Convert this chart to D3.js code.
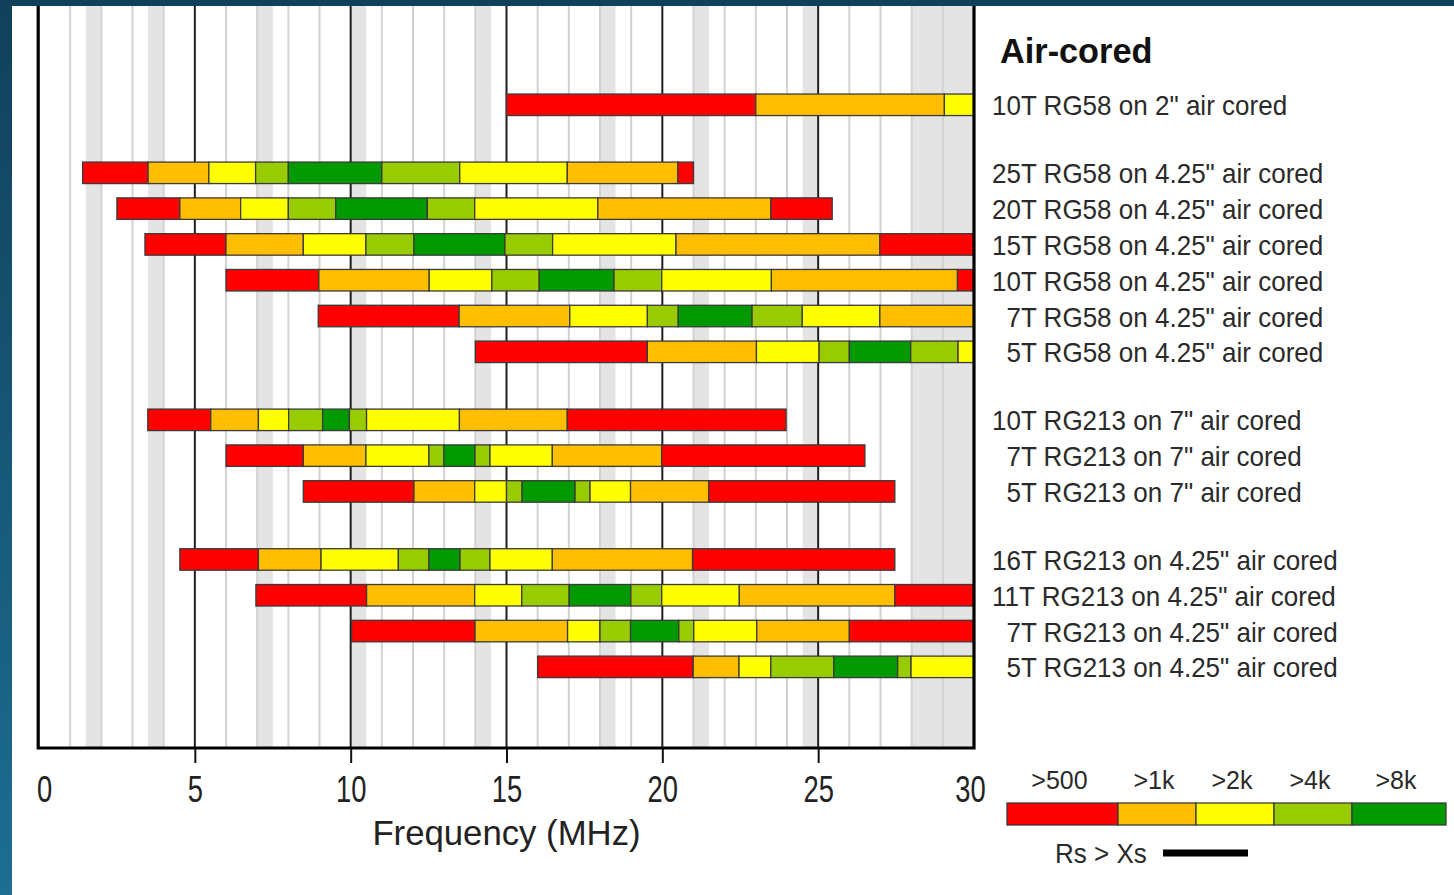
<!DOCTYPE html>
<html><head><meta charset="utf-8">
<script src="https://cdn.jsdelivr.net/npm/d3@7"></script>
<style>html,body{margin:0;padding:0;overflow:hidden;background:#fff}</style>
</head><body><svg id="c" width="1454" height="895"></svg>
<script>
// ---------------- data ----------------
const xTicks = [0, 5, 10, 15, 20, 25, 30];
const minorGrid = [1,2,3,4,6,7,8,9,11,12,13,14,16,17,18,19,21,22,23,24,26,27,28,29];
const majorGrid = [5, 10, 15, 20, 25];
const bandRanges = [[1.5,2.0],[3.5,4.0],[7.0,7.5],[10.0,10.5],[14.0,14.5],[18.0,18.5],[21.0,21.5],[24.5,25.0],[28.0,30.0]];
const levelLabels = [">500", ">1k", ">2k", ">4k", ">8k"];
const legendTitle = "Air-cored";
const axisTitle = "Frequency (MHz)";
const lineLegendLabel = "Rs > Xs";

const rowLabels = [
  '10T RG58 on 2" air cored',
  '25T RG58 on 4.25" air cored',
  '20T RG58 on 4.25" air cored',
  '15T RG58 on 4.25" air cored',
  '10T RG58 on 4.25" air cored',
  '7T RG58 on 4.25" air cored',
  '5T RG58 on 4.25" air cored',
  '10T RG213 on 7" air cored',
  '7T RG213 on 7" air cored',
  '5T RG213 on 7" air cored',
  '16T RG213 on 4.25" air cored',
  '11T RG213 on 4.25" air cored',
  '7T RG213 on 4.25" air cored',
  '5T RG213 on 4.25" air cored'
];
const rowGroups = [0,1,1,1,1,1,1,2,2,2,3,3,3,3];
const rowStarts = [15.0, 1.4, 2.5, 3.4, 6.0, 8.96, 14.0, 3.49, 6.0, 8.48, 4.52, 6.96, 10.03, 16.0];
const rowEdges = [
  [23.0, 29.05, 30],
  [3.5, 5.45, 6.95, 8.0, 11.0, 13.5, 16.95, 20.5, 21.0],
  [4.52, 6.47, 8.0, 9.52, 12.46, 13.98, 17.93, 23.48, 25.45],
  [6.0, 8.48, 10.49, 12.03, 14.95, 16.48, 20.44, 26.98, 30],
  [8.98, 12.52, 14.53, 16.05, 18.45, 19.98, 23.5, 29.47, 30],
  [13.48, 17.03, 19.52, 20.51, 22.88, 24.49, 26.98, 30],
  [19.52, 23.02, 25.03, 26.0, 27.97, 29.49, 30],
  [5.51, 7.04, 8.01, 9.1, 9.96, 10.51, 13.49, 16.95, 23.97],
  [8.48, 10.49, 12.51, 12.99, 13.99, 14.47, 16.47, 19.98, 26.5],
  [12.03, 13.98, 15.0, 15.5, 17.2, 17.68, 18.98, 21.49, 27.46],
  [7.04, 9.05, 11.53, 12.51, 13.51, 14.47, 16.47, 20.97, 27.46],
  [10.51, 13.98, 15.49, 17.01, 18.99, 19.98, 22.47, 27.46, 30],
  [13.99, 16.96, 18.0, 18.98, 20.53, 21.01, 23.03, 26.0, 30],
  [20.99, 22.46, 23.48, 25.5, 27.55, 27.98, 30]
];
const rowLevels = [
  [0,1,2],
  [0,1,2,3,4,3,2,1,0],
  [0,1,2,3,4,3,2,1,0],
  [0,1,2,3,4,3,2,1,0],
  [0,1,2,3,4,3,2,1,0],
  [0,1,2,3,4,3,2,1],
  [0,1,2,3,4,3,2],
  [0,1,2,3,4,3,2,1,0],
  [0,1,2,3,4,3,2,1,0],
  [0,1,2,3,4,3,2,1,0],
  [0,1,2,3,4,3,2,1,0],
  [0,1,2,3,4,3,2,1,0],
  [0,1,2,3,4,3,2,1,0],
  [0,1,2,3,4,3,2]
];

// ---------------- styles / layout ----------------
const levelColors = ["#ff0000", "#ffbf00", "#ffff00", "#99cc00", "#009900"];
const FONT = "'Liberation Sans', Arial, Helvetica, sans-serif";
const W = 1454, H = 895;
const plotTop = 6, plotBottom = 748;
const barH = 21.5;
const groupGap = 0.9;

const svg = d3.select('#c').attr('font-family', FONT);
const defs = svg.append('defs');
const grad = defs.append('linearGradient').attr('id','bg').attr('x1',0).attr('y1',0).attr('x2',0).attr('y2',1);
grad.append('stop').attr('offset','0%').attr('stop-color','#11405a');
grad.append('stop').attr('offset','100%').attr('stop-color','#1c6e93');
svg.append('rect').attr('width',W).attr('height',H).attr('fill','url(#bg)');
svg.append('rect').attr('x',12).attr('y',6).attr('width',W-12).attr('height',H-6).attr('fill','#fff');

const x = d3.scaleLinear().domain([0,30]).range([39,974]);
const slot = i => i + groupGap * rowGroups[i];
const y = d3.scaleLinear().domain([0,1]).range([104.8, 140.6]);

// bands
svg.append('g').selectAll('rect').data(bandRanges).join('rect')
  .attr('x', d => x(d[0])).attr('width', d => x(d[1]) - x(d[0]))
  .attr('y', plotTop).attr('height', plotBottom - plotTop)
  .attr('fill', '#e4e4e4');
// minor grid
svg.append('g').selectAll('line').data(minorGrid).join('line')
  .attr('x1', d => x(d)).attr('x2', d => x(d))
  .attr('y1', plotTop).attr('y2', plotBottom)
  .attr('stroke', '#d2d2d2').attr('stroke-width', 2);
// major grid
svg.append('g').selectAll('line').data(majorGrid).join('line')
  .attr('x1', d => x(d)).attr('x2', d => x(d))
  .attr('y1', plotTop).attr('y2', plotBottom)
  .attr('stroke', '#1e1e1e').attr('stroke-width', 2);

// bars
const segs = [];
rowEdges.forEach((edges, i) => {
  edges.forEach((e, j) => {
    segs.push({row: i, s: j === 0 ? rowStarts[i] : edges[j-1], e: e, lvl: rowLevels[i][j]});
  });
});
svg.append('g').selectAll('rect').data(segs).join('rect')
  .attr('x', d => x(d.s)).attr('width', d => x(d.e) - x(d.s))
  .attr('y', d => y(slot(d.row)) - barH/2).attr('height', barH)
  .attr('fill', d => levelColors[d.lvl])
  .attr('stroke', '#3a3a3a').attr('stroke-width', 1.3);

// frame
svg.append('path')
  .attr('d', `M${x(0)-0.8},${plotTop} V${plotBottom} H${x(30)} V${plotTop}`)
  .attr('fill','none').attr('stroke','#000').attr('stroke-width',3.2);

// x axis
const ax = svg.append('g').attr('transform', `translate(0,${plotBottom})`)
  .call(d3.axisBottom(x).tickValues(xTicks).tickSize(15).tickFormat(d3.format('d')));
ax.select('.domain').remove();
ax.selectAll('.tick line').attr('stroke','#111').attr('stroke-width',2)
  .attr('y1', 1).attr('display', d => (d === 0 || d === 30) ? 'none' : null);
ax.selectAll('.tick text')
  .attr('y', null).attr('dy', null)
  .attr('transform', d => `translate(${d === 0 ? 5 : d === 30 ? -4 : 0},54) scale(0.74,1)`)
  .attr('font-size', 37).attr('font-family', FONT).attr('fill', '#222');

svg.append('text').text(axisTitle)
  .attr('transform', `translate(${(x(0)+x(30))/2},845) scale(0.965,1)`)
  .attr('text-anchor','middle').attr('font-size',36).attr('fill','#222');

// legend title
svg.append('text').text(legendTitle)
  .attr('transform','translate(1000,63) scale(0.98,1)')
  .attr('font-size',35).attr('font-weight','bold').attr('fill','#111');

// row labels
const labelSx = 0.93, labelFs = 28;
const meas = svg.append('text').attr('font-size', labelFs).text('0');
const digitW = meas.node().getComputedTextLength() * labelSx;
meas.remove();
svg.append('g').selectAll('text').data(rowLabels).join('text')
  .text(d => d)
  .attr('transform', (d, i) => {
    const off = /^\d[A-Z]/.test(d) ? digitW : 0;
    return `translate(${992 + off},${y(slot(i)) + 10.5}) scale(${labelSx},1)`;
  })
  .attr('font-size', labelFs).attr('fill', '#2a2a2a');

// colour legend
const legW = [111, 78, 78, 78, 94];
const legX0 = 1007;
const legPos = [];
let acc = legX0;
legW.forEach(w => { legPos.push([acc, acc + w]); acc += w; });
const lg = svg.append('g');
lg.selectAll('rect').data(levelLabels).join('rect')
  .attr('x', (d,i) => legPos[i][0]).attr('width', (d,i) => legPos[i][1] - legPos[i][0])
  .attr('y', 803).attr('height', 22)
  .attr('fill', (d,i) => levelColors[i])
  .attr('stroke', '#3a3a3a').attr('stroke-width', 1.3);
lg.selectAll('text').data(levelLabels).join('text')
  .text(d => d)
  .attr('x', (d,i) => (legPos[i][0] + legPos[i][1]) / 2 - 3)
  .attr('y', 789)
  .attr('text-anchor','middle').attr('font-size',25).attr('fill','#2a2a2a');

svg.append('text').text(lineLegendLabel)
  .attr('transform','translate(1055,863) scale(0.93,1)')
  .attr('font-size',28).attr('fill','#2a2a2a');
svg.append('line').attr('x1',1163).attr('x2',1248).attr('y1',853).attr('y2',853)
  .attr('stroke','#000').attr('stroke-width',7);
</script>
</body></html>
